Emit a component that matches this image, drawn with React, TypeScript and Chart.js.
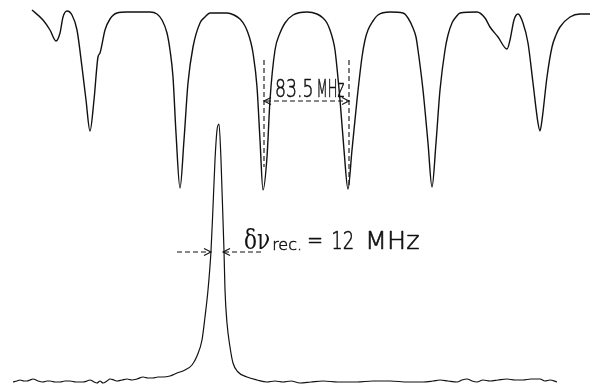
import React, { useEffect, useRef } from "react";
import { Chart, registerables } from "chart.js";

Chart.register(...registerables);

// Upper trace: transmission of the reference cavity (frequency offset in MHz, signal in arb. units)
const cavityFreq = [
  -186, -175, -168, -162, -158, -155, -151, -146, -141, -136, -132, -128, -124, -120, -118, -113, -108, -101, -91,
  -68, -61, -56, -51, -48, -45, -42, -38, -34, -30, -25, -18, -13, -8, 9, 16, 22, 27, 30, 33, 35, 39, 42, 45, 49, 52, 57, 62, 67, 75,
  89, 99, 105, 109, 112, 115, 117, 122, 126, 130, 134, 139, 144, 147, 150, 155, 160, 172, 185, 190, 195, 198, 200, 205, 210, 214, 218, 222,
  227, 230, 234, 238, 242, 259, 267, 272, 280, 289, 292, 296, 300, 305, 310, 315, 320, 322, 324, 329, 334, 338, 342, 352,
  362, 372,
];
const cavitySignal = [
  375, 365, 355, 344, 352, 368, 374, 370, 355, 318, 285, 254, 285, 328, 332, 355, 366, 372, 373,
  373, 371, 365, 352, 335, 308, 252, 197, 245, 302, 338, 362, 368, 372, 372, 370, 366, 359, 352, 342, 332, 298, 245, 195, 228, 285, 335, 352, 362, 370,
  373, 371, 367, 362, 355, 345, 335, 285, 235, 196, 235, 285, 328, 345, 355, 364, 370, 373, 372, 367, 357, 348, 335, 295, 242, 198, 242, 295,
  335, 350, 362, 368, 372, 373, 367, 358, 348, 336, 345, 365, 371, 362, 342, 302, 262, 254, 265, 308, 338, 350, 358, 368,
  371, 371,
];

// Lower trace: recoil-resolved line (frequency offset in MHz, signal in arb. units)
const lineFreq = [
  -205, -201, -198, -194, -191, -188, -185, -180, -175, -171, -168, -163, -158, -153, -148, -142, -135, -131, -128, -124,
  -121, -118, -115, -111, -108, -104, -101, -96, -91, -86, -81, -75, -70,
  -65, -60, -55, -48, -41, -33, -26, -21, -16, -13, -10, -7, -5, -3, -1, 1, 3, 4, 6, 7, 9, 12, 15, 20, 29, 39,
  49, 57, 65, 73, 82, 93, 105, 120, 139, 155, 172, 190, 205, 215, 222, 230, 239, 244, 249, 254, 259, 265, 272, 280, 289,
  297, 305, 313, 322, 327, 332, 339,
];
const lineSignal = [
  3, 4, 5, 4, 4, 5, 6, 4, 3, 4, 4, 3, 3, 4, 4, 3, 3, 4, 5, 3,
  2, 4, 2, 4, 6, 5, 4, 5, 6, 5, 6, 8, 7,
  7, 8, 8, 9, 12, 15, 20, 29, 45, 68, 95, 134, 178, 225, 255, 261, 225, 195, 134, 95, 62, 38, 22, 13, 8, 5,
  3, 4, 3, 4, 2, 3, 4, 3, 3, 4, 4, 3, 3, 4, 5, 4, 3, 5, 6, 4, 3, 5, 4, 5, 6,
  5, 5, 6, 6, 4, 5, 3,
];

// Annotations (data units)
const fsrMarks = [46, 131];
const fsrValue = "83.5";
const unit = "MHz";
const widthMarks = [-7, 5];
const widthValue = "12";

const X_MIN = -218;
const X_MAX = 374;
const Y_MIN = 0;
const Y_MAX = 385;

function dashed(ctx: CanvasRenderingContext2D, x1: number, y1: number, x2: number, y2: number) {
  ctx.save();
  ctx.setLineDash([5, 3]);
  ctx.beginPath();
  ctx.moveTo(x1, y1);
  ctx.lineTo(x2, y2);
  ctx.stroke();
  ctx.restore();
}

function head(ctx: CanvasRenderingContext2D, x: number, y: number, dir: number) {
  ctx.save();
  ctx.setLineDash([]);
  ctx.beginPath();
  ctx.moveTo(x - dir * 7, y - 3.5);
  ctx.lineTo(x, y);
  ctx.lineTo(x - dir * 7, y + 3.5);
  ctx.stroke();
  ctx.restore();
}

function scaledText(
  ctx: CanvasRenderingContext2D,
  text: string,
  x: number,
  y: number,
  font: string,
  sx: number,
  outline = 0
) {
  ctx.save();
  ctx.font = font;
  ctx.textBaseline = "alphabetic";
  ctx.translate(x, y);
  ctx.scale(sx, 1);
  ctx.fillText(text, 0, 0);
  if (outline > 0) {
    ctx.setLineDash([]);
    ctx.lineWidth = outline;
    ctx.lineJoin = "round";
    ctx.strokeText(text, 0, 0);
  }
  const w = ctx.measureText(text).width * sx;
  ctx.restore();
  return w;
}

const annotations = {
  id: "annotations",
  afterDatasetsDraw(chart: any) {
    const { ctx } = chart;
    const xs = chart.scales.x;
    const ys = chart.scales.y;
    ctx.save();
    ctx.strokeStyle = "#111";
    ctx.fillStyle = "#111";
    ctx.lineWidth = 1.1;

    // free spectral range marker
    const xl = xs.getPixelForValue(fsrMarks[0]);
    const xr = xs.getPixelForValue(fsrMarks[1]);
    dashed(ctx, xl, ys.getPixelForValue(325), xl, ys.getPixelForValue(218));
    dashed(ctx, xr, ys.getPixelForValue(325), xr, ys.getPixelForValue(200));
    const ya = ys.getPixelForValue(284);
    dashed(ctx, xl + 2, ya, xr - 2, ya);
    head(ctx, xl, ya, -1);
    head(ctx, xr, ya, 1);
    let ux = xl + 11;
    const ub = ys.getPixelForValue(288);
    ux += scaledText(ctx, fsrValue, ux, ub, "300 24px 'DejaVu Sans'", 0.72, 0.6) + 3;
    scaledText(ctx, unit, ux, ub, "300 24px 'DejaVu Sans'", 0.54, 0.6);

    // linewidth marker
    const yb = ys.getPixelForValue(133);
    const a1 = xs.getPixelForValue(widthMarks[0]);
    const a2 = xs.getPixelForValue(widthMarks[1]);
    dashed(ctx, xs.getPixelForValue(-41), yb, a1 - 1, yb);
    head(ctx, a1, yb, 1);
    dashed(ctx, a2 + 1, yb, xs.getPixelForValue(45), yb);
    head(ctx, a2, yb, -1);

    let tx = xs.getPixelForValue(26);
    const base = ys.getPixelForValue(136);
    tx += scaledText(ctx, "δν", tx, base, "27px 'DejaVu Serif'", 0.8) + 2;
    tx += scaledText(ctx, "rec.", tx, base + 1, "300 16px 'DejaVu Sans'", 1.0, 0.5) + 5;
    tx += scaledText(ctx, "=", tx, base - 1, "300 24px 'DejaVu Sans'", 0.8, 0.6) + 8;
    tx += scaledText(ctx, widthValue, tx, base, "300 24px 'DejaVu Sans'", 0.75, 0.6) + 11;
    scaledText(ctx, unit, tx, base, "300 24px 'DejaVu Sans'", 1.06, 0.6);
    ctx.restore();
  },
};

const background = {
  id: "bg",
  beforeDraw(chart: any) {
    const { ctx, width, height } = chart;
    ctx.save();
    ctx.fillStyle = "#fff";
    ctx.fillRect(0, 0, width, height);
    ctx.restore();
  },
};

export default function App() {
  const ref = useRef<HTMLCanvasElement>(null);
  useEffect(() => {
    if (!ref.current) return;
    const chart = new Chart(ref.current, {
      type: "line",
      data: {
        datasets: [
          {
            data: cavityFreq.map((f, i) => ({ x: f, y: cavitySignal[i] })),
            borderColor: "#111",
            borderWidth: 1.4,
            pointRadius: 0,
            cubicInterpolationMode: "monotone",
            clip: false,
          },
          {
            data: lineFreq.map((f, i) => ({ x: f, y: lineSignal[i] })),
            borderColor: "#111",
            borderWidth: 1.2,
            pointRadius: 0,
            cubicInterpolationMode: "monotone",
            clip: false,
          },
        ],
      },
      options: {
        animation: false,
        responsive: false,
        maintainAspectRatio: false,
        layout: { padding: 0 },
        plugins: { legend: { display: false }, tooltip: { enabled: false } },
        scales: {
          x: { type: "linear", min: X_MIN, max: X_MAX, display: false },
          y: { type: "linear", min: Y_MIN, max: Y_MAX, display: false },
        },
      },
      plugins: [background, annotations],
    } as any);
    return () => chart.destroy();
  }, []);
  return (
    <div style={{ position: "absolute", left: 0, top: 0, width: 592, height: 385, background: "#fff" }}>
      <canvas ref={ref} width={592} height={385} />
    </div>
  );
}
